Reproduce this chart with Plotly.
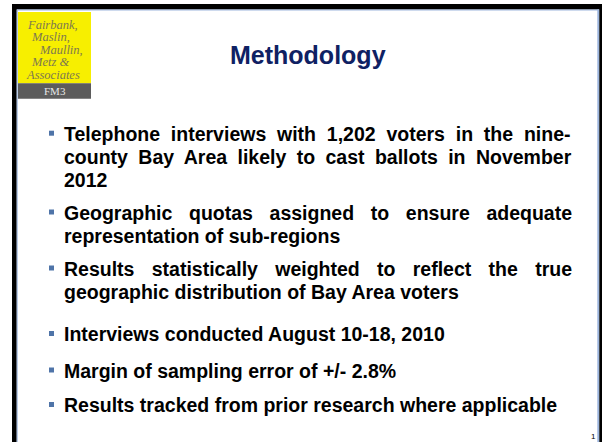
import plotly.graph_objects as go

title = "Methodology"
logo_lines = ["Fairbank,", "Maslin,", "Maullin,", "Metz &", "Associates"]
logo_tag = "FM3"
page_no = "1"

bullets = [
    ["Telephone interviews with 1,202 voters in the nine-",
     "county Bay Area likely to cast ballots in November",
     "2012"],
    ["Geographic quotas assigned to ensure adequate",
     "representation of sub-regions"],
    ["Results statistically weighted to reflect the true",
     "geographic distribution of Bay Area voters"],
    ["Interviews conducted August 10-18, 2010"],
    ["Margin of sampling error of +/- 2.8%"],
    ["Results tracked from prior research where applicable"],
]

# layout (pixels, y grows downwards)
W, H = 602, 442
fs = 19.5
text_left, text_right = 63, 571
line_gap = 23
para_baselines = [140.7, 219.5, 275.5, 341, 377.5, 412]
navy = "#0f2163"
bullet_blue = "#4f74a8"
frame_blue = "#9db6de"

# Arial Bold advance widths (per 1000 em), used to justify lines
widths = {" ": 278, ",": 278, "-": 333, ".": 278, "/": 278, "+": 584, "%": 889, "&": 722}
widths.update({d: 556 for d in "0123456789"})
widths.update(dict(zip("ABCDEFGHIJKLMNOPQRSTUVWXYZ",
                       [722, 722, 722, 722, 667, 611, 778, 722, 278, 556, 722, 611, 833,
                        722, 778, 667, 778, 722, 667, 611, 722, 667, 944, 667, 667, 611])))
widths.update(dict(zip("abcdefghijklmnopqrstuvwxyz",
                       [556, 611, 556, 611, 556, 333, 611, 611, 278, 278, 556, 278, 889,
                        611, 611, 611, 611, 389, 556, 333, 611, 556, 778, 556, 556, 500])))


def text_width(s):
    return sum(widths.get(c, 556) for c in s) * fs / 1000


fig = go.Figure()
shapes = []
annotations = []

# slide frame
shapes += [
    dict(x0=12, x1=W, y0=4, y1=9.5, fillcolor="black"),
    dict(x0=17, x1=599.3, y0=9.5, y1=10.5, fillcolor=frame_blue),
    dict(x0=12, x1=16.7, y0=4, y1=H, fillcolor="black"),
    dict(x0=16.7, x1=17.7, y0=9.5, y1=H, fillcolor=frame_blue),
    dict(x0=597.3, x1=599.3, y0=9.5, y1=H, fillcolor=frame_blue),
    dict(x0=599.3, x1=W, y0=4, y1=H, fillcolor="black"),
]

# logo
shapes += [
    dict(x0=18, x1=91, y0=12, y1=83.3, fillcolor="#f7ef00"),
    dict(x0=18, x1=91, y0=83.3, y1=98.7, fillcolor="#5c5c5c"),
]
logo_x = [26, 30, 37.5, 30, 24.5]
for i, (s, lx) in enumerate(zip(logo_lines, logo_x)):
    annotations.append(dict(x=lx, y=24.5 + i * 12.6, text="<i>%s</i>" % s, xanchor="left", yanchor="middle",
                            font=dict(family="Liberation Serif", size=12.5, color="#7d7850"),
                            showarrow=False, borderpad=0))
annotations.append(dict(x=54.5, y=91, text=logo_tag, xanchor="center", yanchor="middle",
                        font=dict(family="Liberation Serif", size=11, color="#e6e6e6"),
                        showarrow=False, borderpad=0))

# title
annotations.append(dict(x=307.5, y=54.5, text="<b>%s</b>" % title, xanchor="center", yanchor="middle",
                        font=dict(family="Liberation Sans", size=25, color=navy), showarrow=False))

# bullets
for para, base in zip(bullets, para_baselines):
    shapes.append(dict(x0=49, x1=54, y0=base - 10, y1=base - 5, fillcolor=bullet_blue))
    for j, line in enumerate(para):
        y = base + j * line_gap
        txt = line
        if len(para) > 1 and j < len(para) - 1:
            gaps = line.count(" ")
            extra = (text_right - text_left - text_width(line)) / gaps
            txt = '<span style="word-spacing:%.2fpx">%s</span>' % (extra, line)
        annotations.append(dict(x=text_left, y=y - 0.35 * fs, text="<b>%s</b>" % txt,
                                xanchor="left", yanchor="middle", borderpad=0,
                                font=dict(family="Liberation Sans", size=fs, color="black"),
                                showarrow=False))

annotations.append(dict(x=593, y=436, text=page_no, xanchor="center", yanchor="middle",
                        font=dict(family="Liberation Sans", size=8, color="black"), showarrow=False))

for s in shapes:
    s.update(type="rect", xref="x", yref="y", line=dict(width=0), layer="above")

fig.update_layout(
    width=W, height=H,
    margin=dict(l=0, r=0, t=0, b=0),
    paper_bgcolor="white", plot_bgcolor="white",
    xaxis=dict(range=[0, W], visible=False, fixedrange=True),
    yaxis=dict(range=[H, 0], visible=False, fixedrange=True),
    shapes=shapes, annotations=annotations,
    showlegend=False,
)

fig.write_html("out.html", config={"displayModeBar": False},
               post_script="document.body.style.margin='0';document.body.style.overflow='hidden';")
